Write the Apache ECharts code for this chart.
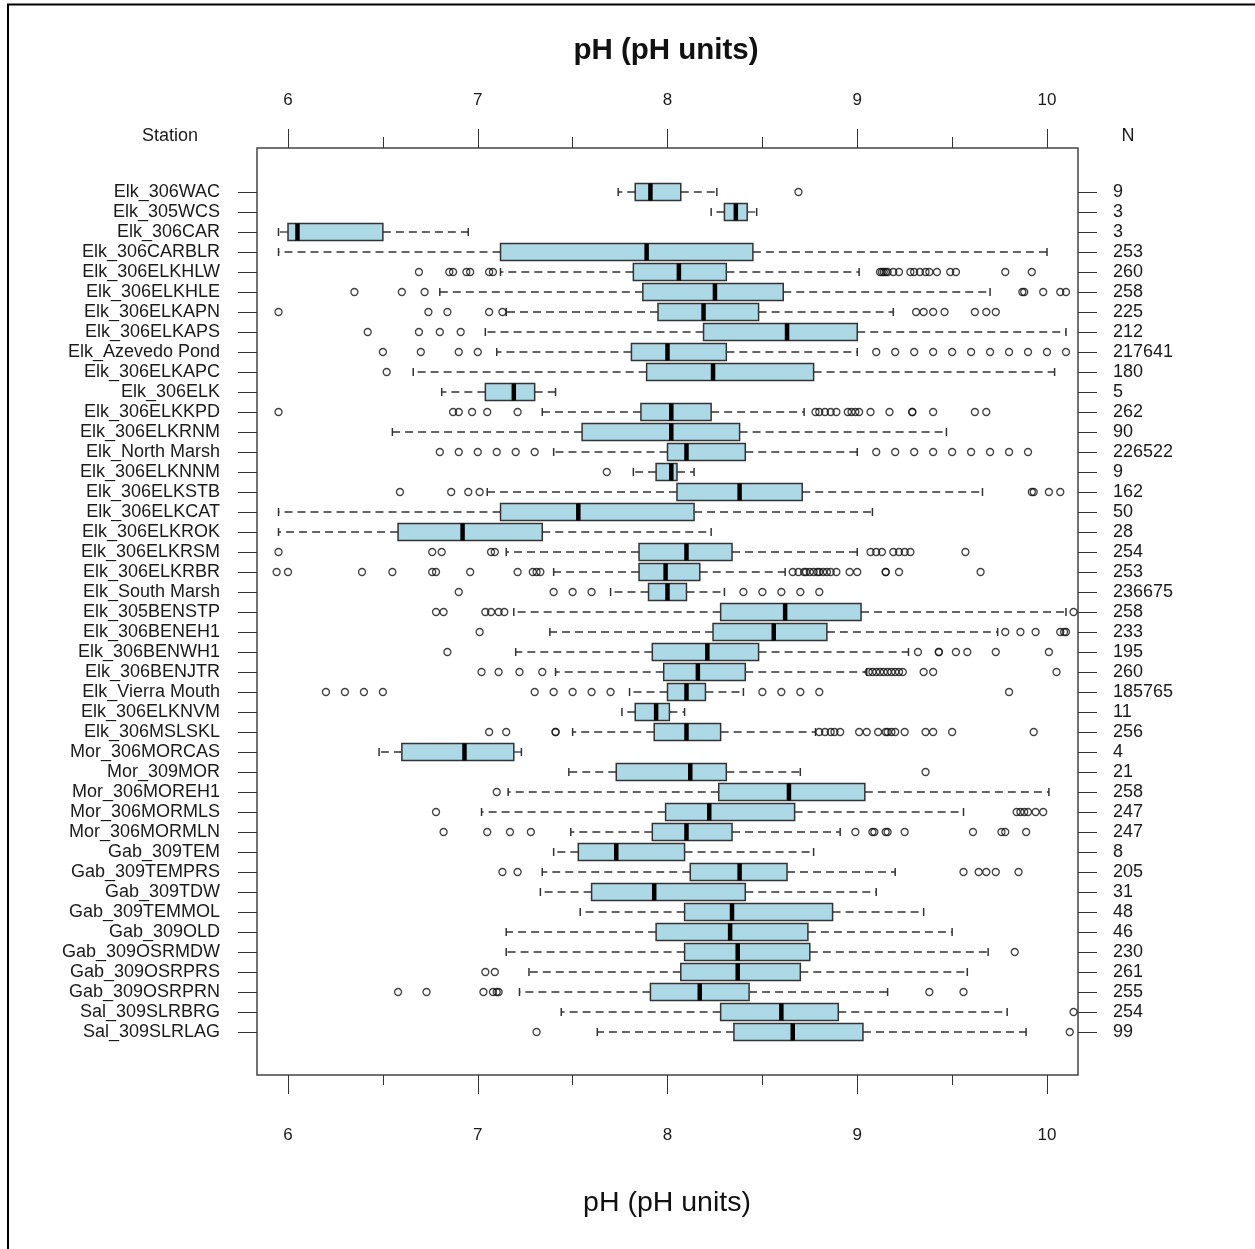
<!DOCTYPE html>
<html><head><meta charset="utf-8">
<script src="https://cdn.jsdelivr.net/npm/echarts@6/dist/echarts.min.js"></script>
<style>html,body{margin:0;padding:0;background:#fff}#c{width:1255px;height:1249px}</style>
</head><body><div id="c"></div><script>
const stations = ['Elk_306WAC','Elk_305WCS','Elk_306CAR','Elk_306CARBLR','Elk_306ELKHLW','Elk_306ELKHLE','Elk_306ELKAPN','Elk_306ELKAPS','Elk_Azevedo Pond','Elk_306ELKAPC','Elk_306ELK','Elk_306ELKKPD','Elk_306ELKRNM','Elk_North Marsh','Elk_306ELKNNM','Elk_306ELKSTB','Elk_306ELKCAT','Elk_306ELKROK','Elk_306ELKRSM','Elk_306ELKRBR','Elk_South Marsh','Elk_305BENSTP','Elk_306BENEH1','Elk_306BENWH1','Elk_306BENJTR','Elk_Vierra Mouth','Elk_306ELKNVM','Elk_306MSLSKL','Mor_306MORCAS','Mor_309MOR','Mor_306MOREH1','Mor_306MORMLS','Mor_306MORMLN','Gab_309TEM','Gab_309TEMPRS','Gab_309TDW','Gab_309TEMMOL','Gab_309OLD','Gab_309OSRMDW','Gab_309OSRPRS','Gab_309OSRPRN','Sal_309SLRBRG','Sal_309SLRLAG'];
const nCounts = [9,3,3,253,260,258,225,212,217641,180,5,262,90,226522,9,162,50,28,254,253,236675,258,233,195,260,185765,11,256,4,21,258,247,247,8,205,31,48,46,230,261,255,254,99];
const whiskerLow = [7.74,8.23,5.95,5.95,7.12,6.80,7.15,7.04,7.10,6.66,6.81,7.34,6.55,7.40,7.82,7.05,5.95,5.95,7.15,7.40,7.70,7.19,7.38,7.20,7.41,7.80,7.76,7.50,6.48,7.48,7.16,7.02,7.49,7.40,7.34,7.33,7.54,7.15,7.15,7.27,7.22,7.44,7.63];
const q1 = [7.83,8.30,6.00,7.12,7.82,7.87,7.95,8.19,7.81,7.89,7.04,7.86,7.55,8.00,7.94,8.05,7.12,6.58,7.85,7.85,7.90,8.28,8.24,7.92,7.98,8.00,7.83,7.93,6.60,7.73,8.27,7.99,7.92,7.53,8.12,7.60,8.09,7.94,8.09,8.07,7.91,8.28,8.35];
const median = [7.91,8.36,6.05,7.89,8.06,8.25,8.19,8.63,8.00,8.24,7.19,8.02,8.02,8.10,8.02,8.38,7.53,6.92,8.10,7.99,8.00,8.62,8.56,8.21,8.16,8.10,7.94,8.10,6.93,8.12,8.64,8.22,8.10,7.73,8.38,7.93,8.34,8.33,8.37,8.37,8.17,8.60,8.66];
const q3 = [8.07,8.42,6.50,8.45,8.31,8.61,8.48,9.00,8.31,8.77,7.30,8.23,8.38,8.41,8.05,8.71,8.14,7.34,8.34,8.17,8.10,9.02,8.84,8.48,8.41,8.20,8.01,8.28,7.19,8.31,9.04,8.67,8.34,8.09,8.63,8.41,8.87,8.74,8.75,8.70,8.43,8.90,9.03];
const whiskerHigh = [8.26,8.47,6.95,10.00,9.01,9.70,9.19,10.10,9.00,10.04,7.41,8.72,9.47,9.00,8.14,9.66,9.08,8.23,9.00,8.62,8.30,10.10,9.74,9.27,9.05,8.40,8.09,8.78,7.23,8.70,10.01,9.56,8.91,8.77,9.20,9.10,9.35,9.50,9.69,9.58,9.16,9.79,9.89];
const outliers = [
 [8.69],
 [],
 [],
 [],
 [6.69,6.85,6.87,6.94,6.96,7.06,7.08,9.12,9.13,9.14,9.15,9.16,9.19,9.22,9.28,9.30,9.33,9.36,9.38,9.42,9.49,9.52,9.78,9.92],
 [6.35,6.60,6.72,9.87,9.88,9.98,10.07,10.10],
 [5.95,6.74,6.84,7.06,7.13,9.31,9.35,9.40,9.46,9.62,9.68,9.73],
 [6.42,6.69,6.80,6.91],
 [6.50,6.70,6.90,7.00,9.10,9.20,9.30,9.40,9.50,9.60,9.70,9.80,9.90,10.00,10.10],
 [6.52],
 [],
 [5.95,6.87,6.90,6.97,7.05,7.21,8.78,8.80,8.83,8.86,8.89,8.95,8.97,8.99,9.01,9.07,9.17,9.29,9.29,9.40,9.62,9.68],
 [],
 [6.80,6.90,7.00,7.10,7.20,7.30,9.10,9.20,9.30,9.40,9.50,9.60,9.70,9.80,9.90],
 [7.68],
 [6.59,6.86,6.95,7.01,9.92,9.93,10.01,10.07],
 [],
 [],
 [5.95,6.76,6.81,7.07,7.09,9.07,9.10,9.13,9.19,9.22,9.25,9.28,9.57],
 [5.94,6.00,6.39,6.55,6.76,6.78,6.96,7.21,7.29,7.31,7.33,8.66,8.69,8.72,8.73,8.75,8.77,8.79,8.80,8.82,8.84,8.86,8.89,8.96,9.00,9.15,9.15,9.22,9.65],
 [6.90,7.40,7.50,7.60,8.40,8.50,8.60,8.70,8.80],
 [6.78,6.82,7.04,7.07,7.11,7.14,10.14],
 [7.01,9.78,9.86,9.94,10.07,10.09,10.10],
 [6.84,9.32,9.43,9.43,9.52,9.58,9.73,10.01],
 [7.02,7.11,7.22,7.34,9.06,9.08,9.10,9.12,9.14,9.16,9.18,9.20,9.22,9.24,9.35,9.40,10.05],
 [6.20,6.30,6.40,6.50,7.30,7.40,7.50,7.60,7.70,8.50,8.60,8.70,8.80,9.80],
 [],
 [7.06,7.15,7.41,7.41,8.80,8.83,8.86,8.88,8.91,9.01,9.05,9.11,9.15,9.16,9.18,9.20,9.25,9.36,9.40,9.50,9.93],
 [],
 [9.36],
 [7.10],
 [6.78,9.84,9.86,9.88,9.90,9.94,9.98],
 [6.82,7.05,7.17,7.28,8.99,9.08,9.09,9.15,9.16,9.25,9.61,9.76,9.78,9.89],
 [],
 [7.13,7.21,9.56,9.64,9.68,9.73,9.85],
 [],
 [],
 [],
 [9.83],
 [7.04,7.09],
 [6.58,6.73,7.03,7.08,7.10,7.11,9.38,9.56],
 [10.14],
 [7.31,10.12]
];
const xTicks = [6,7,8,9,10];
const xMinorTicks = [6.5,7.5,8.5,9.5];
const titleText = 'pH (pH units)';

const FONT = '"Liberation Sans", Arial, sans-serif';
const TXT = '#1a1a1a';
const rowIdx = stations.map((_, i) => i);
const boxData = stations.map((s, i) => [i, whiskerLow[i], q1[i], median[i], q3[i], whiskerHigh[i]]);
const outData = [];
outliers.forEach((arr, i) => arr.forEach(v => outData.push([v, i])));

const XMIN = 5.8366, XMAX = 10.1634;
const chart = echarts.init(document.getElementById('c'), null, {renderer: 'canvas'});

function xAxisDef(pos, ticks, len, labels, margin) {
  return {
    type: 'value', position: pos, min: XMIN, max: XMAX,
    axisLine: {show: false, onZero: false},
    axisTick: {show: true, inside: false, customValues: ticks, length: len, lineStyle: {color: '#333', width: 1}},
    axisLabel: labels ? {show: true, customValues: ticks, margin: margin, fontSize: 17, fontFamily: FONT, color: TXT} : {show: false},
    splitLine: {show: false}
  };
}
function yAxisDef(pos, fmt, margin) {
  return {
    type: 'value', position: pos, inverse: true, min: -2.2, max: 44.15,
    axisLine: {show: false, onZero: false},
    axisTick: {show: true, inside: false, customValues: rowIdx, length: 19, lineStyle: {color: '#333', width: 1}},
    axisLabel: {show: true, customValues: rowIdx, formatter: v => fmt(Math.round(v)), margin: margin, fontSize: 18, fontFamily: FONT, color: TXT, padding: [3, 0, 0, 0]},
    splitLine: {show: false}
  };
}

chart.setOption({
  animation: false,
  backgroundColor: '#fff',
  grid: {left: 257, right: 177, top: 148, bottom: 174, show: true, borderColor: '#444', borderWidth: 1.5, backgroundColor: 'transparent', containLabel: false, outerBoundsMode: 'none'},
  xAxis: [
    xAxisDef('bottom', xTicks, 19, true, 52),
    xAxisDef('bottom', xMinorTicks, 10, false, 0),
    xAxisDef('top', xTicks, 19, true, 39),
    xAxisDef('top', xMinorTicks, 11, false, 0)
  ],
  yAxis: [
    yAxisDef('left', i => stations[i] || '', 37),
    yAxisDef('right', i => (nCounts[i] === undefined ? '' : String(nCounts[i])), 35)
  ],
  graphic: [
    {type: 'polyline', silent: true, shape: {points: [[8, 1249], [8, 4.5], [1255, 4.5]]}, style: {stroke: '#000', lineWidth: 2, fill: null}},
    {type: 'text', silent: true, x: 666, y: 51, style: {text: titleText, font: 'bold 29.5px ' + FONT, fill: '#111', align: 'center', verticalAlign: 'middle'}},
    {type: 'text', silent: true, x: 667, y: 1203, style: {text: titleText, font: '28.5px ' + FONT, fill: '#111', align: 'center', verticalAlign: 'middle'}},
    {type: 'text', silent: true, x: 170, y: 136, style: {text: 'Station', font: '18px ' + FONT, fill: TXT, align: 'center', verticalAlign: 'middle'}},
    {type: 'text', silent: true, x: 1128, y: 136, style: {text: 'N', font: '18px ' + FONT, fill: TXT, align: 'center', verticalAlign: 'middle'}}
  ],
  series: [
    {
      type: 'custom', xAxisIndex: 0, yAxisIndex: 0, silent: true, clip: false,
      encode: {x: [1, 2, 3, 4, 5], y: 0},
      data: boxData,
      renderItem: function (params, api) {
        const y = api.value(0);
        const p = [1, 2, 3, 4, 5].map(k => api.coord([api.value(k), y]));
        const cy = p[0][1];
        const hb = 8.5, hc = 4;
        const st = '#333';
        return {type: 'group', children: [
          {type: 'line', shape: {x1: p[1][0], y1: cy, x2: p[0][0], y2: cy}, style: {stroke: st, lineWidth: 1.3, lineDash: [8, 5]}},
          {type: 'line', shape: {x1: p[3][0], y1: cy, x2: p[4][0], y2: cy}, style: {stroke: st, lineWidth: 1.3, lineDash: [8, 5]}},
          {type: 'line', shape: {x1: p[0][0], y1: cy - hc, x2: p[0][0], y2: cy + hc}, style: {stroke: st, lineWidth: 1.5}},
          {type: 'line', shape: {x1: p[4][0], y1: cy - hc, x2: p[4][0], y2: cy + hc}, style: {stroke: st, lineWidth: 1.5}},
          {type: 'rect', shape: {x: p[1][0], y: cy - hb, width: p[3][0] - p[1][0], height: 2 * hb}, style: {fill: '#ADD8E6', stroke: st, lineWidth: 1.5}},
          {type: 'line', shape: {x1: p[2][0], y1: cy - hb, x2: p[2][0], y2: cy + hb}, style: {stroke: '#000', lineWidth: 4.5}}
        ]};
      }
    },
    {
      type: 'scatter', xAxisIndex: 0, yAxisIndex: 0, silent: true, clip: false,
      symbol: 'circle', symbolSize: 7,
      itemStyle: {color: 'rgba(0,0,0,0)', borderColor: '#111', borderWidth: 1.3},
      data: outData
    }
  ]
});
</script></body></html>
